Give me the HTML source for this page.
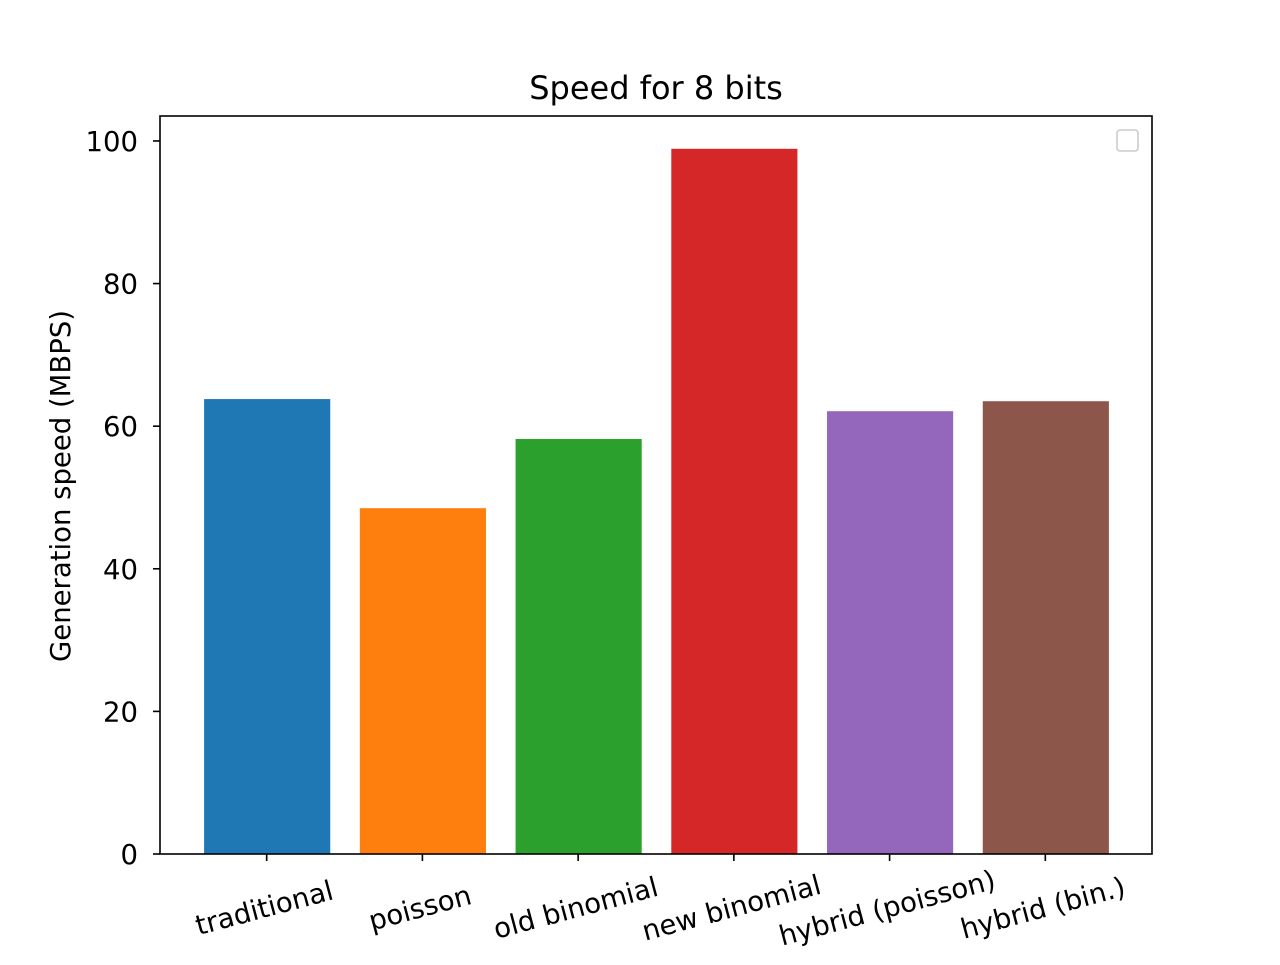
<!DOCTYPE html>
<html><head><meta charset="utf-8"><style>
body{margin:0;background:#fff;}
text{font-family:"DejaVu Sans","Liberation Sans",sans-serif;fill:#000;}
</style></head><body>
<svg id="chart" width="1280" height="960" xmlns="http://www.w3.org/2000/svg">
<rect width="1280" height="960" fill="#fff"/>
<text x="656" y="99" font-size="32" text-anchor="middle">Speed for 8 bits</text>
<g id="bars"></g><g id="yticks"></g><g id="xticks"></g>
<rect x="160" y="116" width="992" height="738" fill="none" stroke="#000" stroke-width="1.6"/>
<rect x="1117" y="130" width="21" height="21" rx="3" fill="#fff" stroke="#ccc" stroke-width="1.6"/>
<text transform="translate(70,486) rotate(-90)" font-size="27.5" text-anchor="middle">Generation speed (MBPS)</text>
</svg>
<script>
const categories=["traditional","poisson","old binomial","new binomial","hybrid (poisson)","hybrid (bin.)"];
const values=[63.8,48.5,58.2,98.9,62.1,63.5];
const colors=["#1f77b4","#ff7f0e","#2ca02c","#d62728","#9467bd","#8c564b"];
const yTicks=[0,20,40,60,80,100];
const NS="http://www.w3.org/2000/svg";
const L=160,R=1152,T=116,B=854,yMax=103.5,xMin=-0.685,xMax=5.685;
const xs=v=>L+(v-xMin)/(xMax-xMin)*(R-L);
const ys=v=>B-v/yMax*(B-T);
function mk(t,a,p){const e=document.createElementNS(NS,t);for(const k in a)e.setAttribute(k,a[k]);p.appendChild(e);return e;}
const bars=document.getElementById('bars'),yt=document.getElementById('yticks'),xt=document.getElementById('xticks');
values.forEach((v,i)=>{
 const w=xs(0.405)-xs(-0.405);
 const r=mk('rect',{x:xs(i)-w/2+0.5,y:ys(v),width:w,height:ys(0)-ys(v),fill:colors[i]},bars);
 
 
 const tk=mk('line',{x1:xs(i),x2:xs(i),y1:B,y2:B+7,stroke:'#000','stroke-width':1.6},xt);
 
 
 const tx=mk('text',{transform:`translate(${xs(i)},${B+63}) rotate(-15)`,'font-size':27.5,'text-anchor':'middle'},xt);
 tx.textContent=categories[i];
 
 
});
yTicks.forEach(v=>{
 const tk=mk('line',{x1:L-7,x2:L,y1:ys(v),y2:ys(v),stroke:'#000','stroke-width':1.6},yt);
 
 
 const tx=mk('text',{x:L-22,y:ys(v)+10,'font-size':27.5,'text-anchor':'end'},yt);
 tx.textContent=v;
 
 
});
</script>
</body></html>
